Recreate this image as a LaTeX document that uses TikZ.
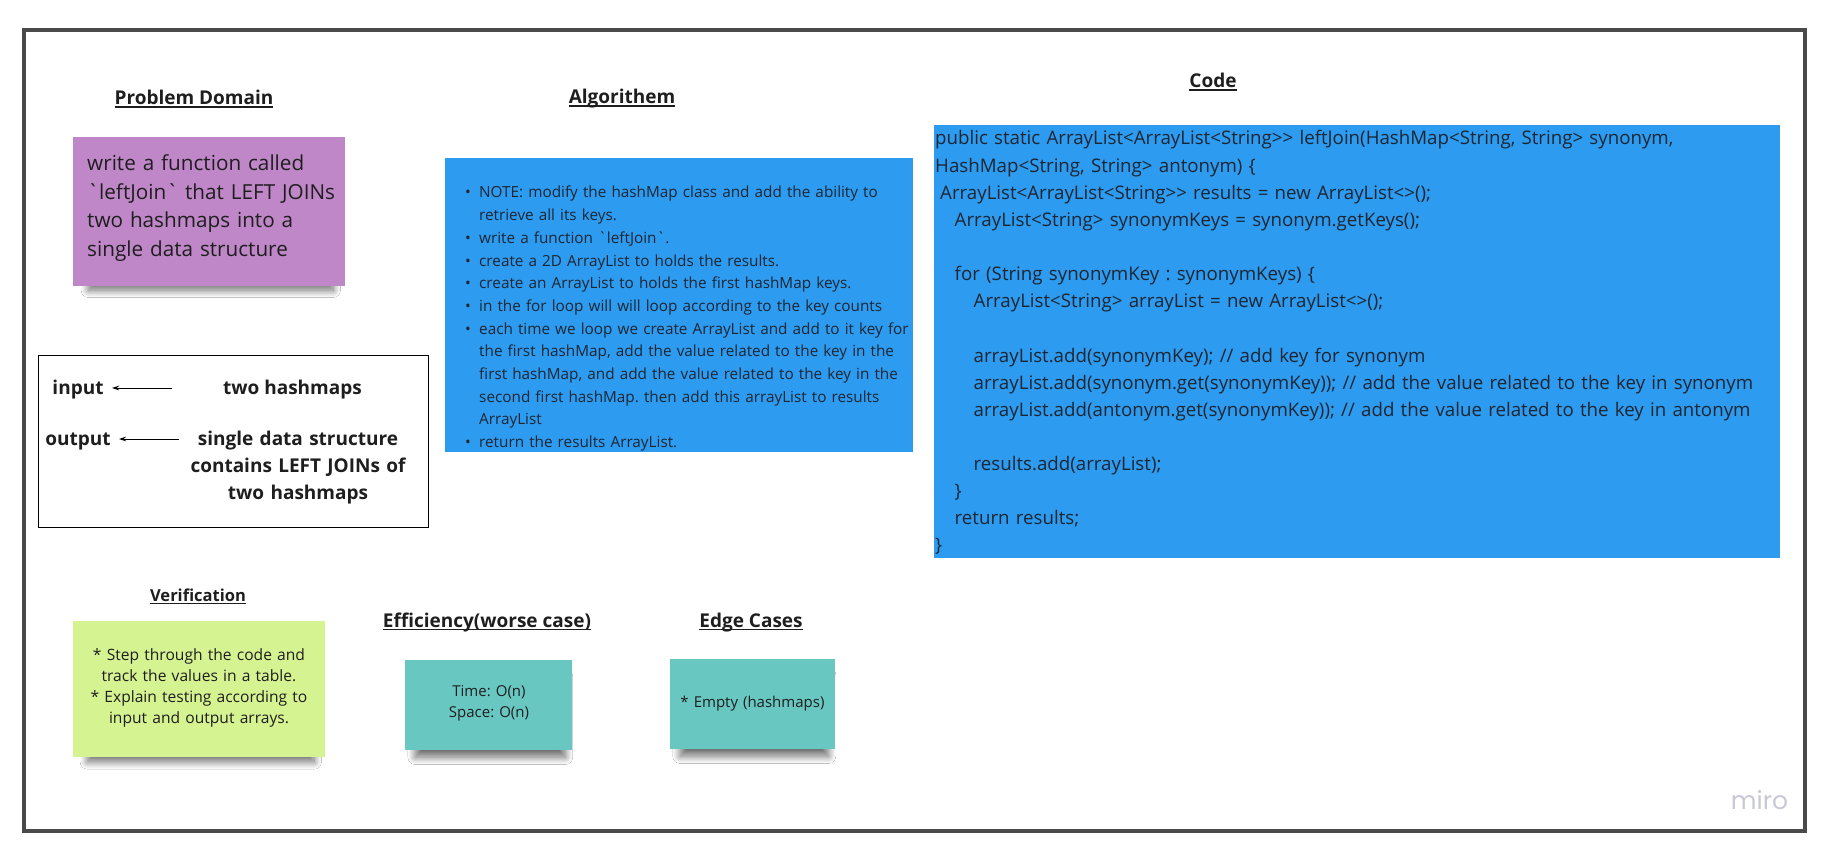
\documentclass[tikz,border=0pt]{standalone}
\usepackage{fontspec}
\setmainfont{Open Sans}[Ligatures=TeXOff]
\newfontfamily\logofont{Poppins}
\usetikzlibrary{arrows.meta,shadows.blur}
\definecolor{framec}{RGB}{74,74,74}
\definecolor{mblue}{RGB}{45,155,240}
\definecolor{mpurple}{RGB}{191,135,200}
\definecolor{mgreen}{RGB}{214,243,146}
\definecolor{mteal}{RGB}{105,199,194}
\definecolor{ink}{RGB}{30,30,30}
\definecolor{bink}{RGB}{28,38,50}
\definecolor{logoc}{RGB}{200,200,214}
\newcommand\bt{\symbol{96}}
\newcommand\bl{\makebox[14pt][l]{\textbullet}}
\newcommand\nb{\hspace*{14pt}}
\newcommand\hul[2][1.5pt]{\setbox0\hbox{#2}\rlap{\rule[-3pt]{\wd0}{#1}}\box0}
\frenchspacing
\begin{document}
\begin{tikzpicture}[x=1pt,y=-1pt,
  header/.style={font=\bfseries\fontsize{19}{22}\selectfont, text=ink, inner sep=0pt, anchor=base},
  sticky/.style={draw=none, inner sep=0pt, blur shadow={shadow xshift=2pt, shadow yshift=-13pt, shadow scale=0.9, shadow opacity=58, shadow blur radius=8pt, shadow blur steps=24}},
  bluebox/.style={draw=none, fill=mblue, inner sep=0pt},
  txt/.style={inner sep=0pt, anchor=base west, align=left, text=bink},
  ctxt/.style={inner sep=0pt, anchor=base, align=center, text=ink},
  io/.style={inner sep=0pt, anchor=base, font=\bfseries\fontsize{19}{27}\selectfont, text=ink},
  ioarrow/.style={line width=0.8pt, -{Stealth[length=7pt,width=4.5pt]}}
]
\useasboundingbox (0,0) rectangle (1831,853);
\fill[white] (0,0) rectangle (1831,853);
% frame
\draw[framec, line width=4pt] (24,30) rectangle (1804.5,830.5);

% Problem domain
\node[header] (hpd) at (194,105) {\hul{Problem Domain}};
\node[sticky, fill=mpurple, minimum width=272, minimum height=149] (pd) at (209,211.5) {};
\node[txt, text=ink, text width=265, font=\fontsize{20.7}{28.7}\selectfont] (pdt) at (87,170.5)
  {write a function called\\ \bt leftJoin\bt\ that LEFT JOINs\\ two hashmaps into a\\ single data structure};

% input / output box
\draw[line width=1.3pt] (38.5,355.5) rectangle (428.5,527.5);
\node[io] (inp) at (78,394) {input};
\node[io] (two) at (292.5,394) {two hashmaps};
\node[io] (outp) at (78,445) {output};
\node[io, text width=240, align=center] (sds) at (298,445) {single data structure\\ contains LEFT JOINs of\\ two hashmaps};
\coordinate (a1s) at (172,388);
\coordinate (a1e) at (112,388);
\coordinate (a2s) at (179,439);
\coordinate (a2e) at (119,439);
\draw[ioarrow] (a1s) -- (a1e);
\draw[ioarrow] (a2s) -- (a2e);

% Algorithm
\node[header] (halg) at (622,104) {\hul{Algorithem}};
\node[bluebox, minimum width=468, minimum height=294] (alg) at (679,305) {};
\node[txt, text width=445, font=\fontsize{15.3}{22.7}\selectfont] (algt) at (465,198)
  {\bl NOTE: modify the hashMap class and add the ability to\\
   \nb retrieve all its keys.\\
   \bl write a function \bt leftJoin\bt.\\
   \bl create a 2D ArrayList to holds the results.\\
   \bl create an ArrayList to holds the first hashMap keys.\\
   \bl in the for loop will will loop according to the key counts\\
   \bl each time we loop we create ArrayList and add to it key for\\
   \nb the first hashMap, add the value related to the key in the\\
   \nb first hashMap, and add the value related to the key in the\\
   \nb second first hashMap. then add this arrayList to results\\
   \nb ArrayList\\
   \bl return the results ArrayList.};

% Code
\node[header] (hcode) at (1213,88) {\hul{Code}};
\node[bluebox, minimum width=846, minimum height=433] (code) at (1357,341.5) {};
\node[txt, text width=840, font=\fontsize{18.7}{27.13}\selectfont] (codet) at (935,145)
  {public static ArrayList<ArrayList<String>{}> leftJoin(HashMap<String, String> synonym,\\
   HashMap<String, String> antonym) \{\\
   \hspace*{5pt}ArrayList<ArrayList<String>{}> results = new ArrayList<>();\\
   \hspace*{19.5pt}ArrayList<String> synonymKeys = synonym.getKeys();\\
   \mbox{}\\
   \hspace*{19.5pt}for (String synonymKey : synonymKeys) \{\\
   \hspace*{38.5pt}ArrayList<String> arrayList = new ArrayList<>();\\
   \mbox{}\\
   \hspace*{38.5pt}arrayList.add(synonymKey); // add key for synonym\\
   \hspace*{38.5pt}arrayList.add(synonym.get(synonymKey)); // add the value related to the key in synonym\\
   \hspace*{38.5pt}arrayList.add(antonym.get(synonymKey)); // add the value related to the key in antonym\\
   \mbox{}\\
   \hspace*{38.5pt}results.add(arrayList);\\
   \hspace*{19.5pt}\}\\
   \hspace*{19.5pt}return results;\\
   \}};

% Verification
\node[header, font=\bfseries\fontsize{16.5}{19}\selectfont] (hver) at (198,601) {\hul[1.3pt]{Verification}};
\node[sticky, fill=mgreen, minimum width=252, minimum height=136] (ver) at (199,689) {};
\node[ctxt, text width=250, font=\fontsize{15.6}{21}\selectfont] (vert) at (199,660)
  {{*} Step through the code and\\ track the values in a table.\\ {*} Explain testing according to\\ input and output arrays.};

% Efficiency
\node[header] (heff) at (487,627) {\hul{Efficiency(worse case)}};
\node[sticky, fill=mteal, minimum width=167, minimum height=90] (eff) at (488.5,705) {};
\node[ctxt, text width=160, font=\fontsize{15}{21}\selectfont] (efft) at (489,696) {Time: O(n)\\ Space: O(n)};

% Edge cases
\node[header] (hedge) at (751,627) {\hul{Edge Cases}};
\node[sticky, fill=mteal, minimum width=165, minimum height=90] (edge) at (752.5,704) {};
\node[ctxt, text width=160, font=\fontsize{15}{21}\selectfont] (edget) at (752.5,707) {{*} Empty (hashmaps)};

% logo
\node[inner sep=0pt, anchor=base, text=logoc, font=\logofont\fontsize{25}{25}\selectfont] (logo) at (1759.5,809) {miro};
\end{tikzpicture}
\end{document}
